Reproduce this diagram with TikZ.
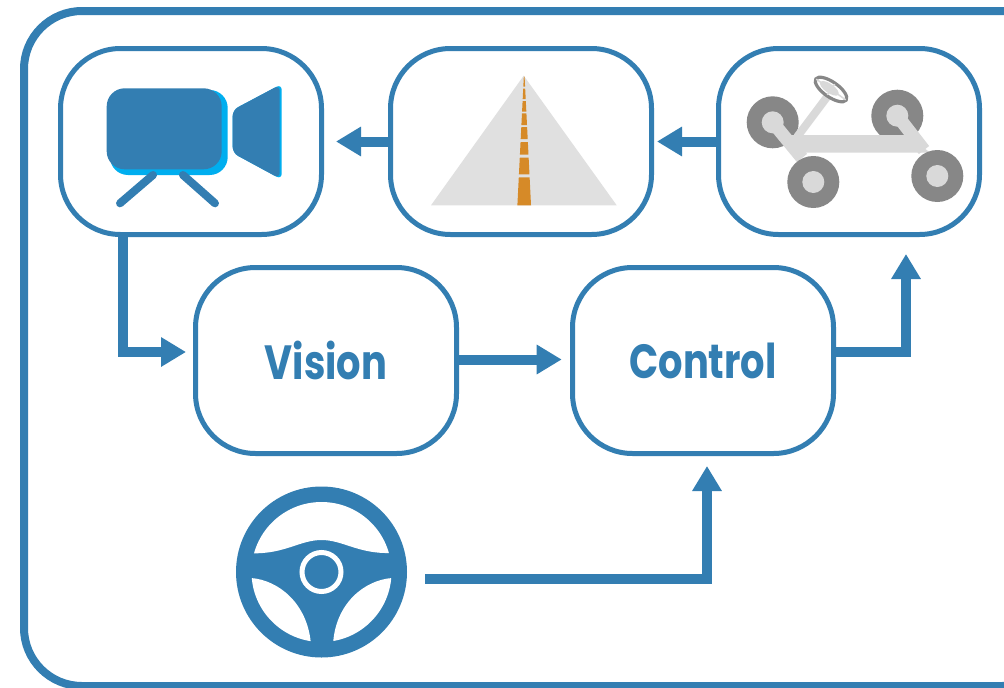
\documentclass[tikz,border=0pt]{standalone}
\usepackage{fontspec}
\setmainfont{Poppins}
\usetikzlibrary{arrows.meta,calc,shapes.geometric}
\definecolor{bl}{HTML}{337EB2}
\definecolor{cy}{HTML}{00AEEF}
\definecolor{rd}{HTML}{E0E0E0}
\definecolor{or}{HTML}{D68A28}
\definecolor{lg}{HTML}{D9D9D9}
\definecolor{dg}{HTML}{878787}
\tikzset{
  box/.style={draw=bl,line width=5pt,rounded corners=60pt,minimum width=261pt,minimum height=186pt,inner sep=0pt,fill=white,font=\bfseries\fontsize{48}{50}\selectfont,text=bl},
  conn/.style={draw=bl,line width=10pt,-{Triangle[length=25pt,width=28pt]}},
  wheelo/.style={fill=dg},
  wheeli/.style={fill=lg},
  bar/.style={draw=lg,line width=13pt}
}
\begin{document}
\begin{tikzpicture}[x=1pt,y=-1pt]
\useasboundingbox (0,0) rectangle (1004,688);
\begin{scope}
\clip (0,0) rectangle (1004,688);
\fill[white] (0,0) rectangle (1004,688);
\draw[bl,line width=8pt,rounded corners=58pt] (24,11) rectangle (1060,686);
\end{scope}
\node[box] (cam) at (191,141.5) {};
\node[box] (road) at (521,141.5) {};
\node[box] (car) at (849,141.5) {};
\node[box] (vision) at (326,360.5) {\raisebox{-2pt}{\scalebox{0.8}[1]{Vision}}};
\node[box] (control) at (703,360.5) {\raisebox{-2pt}{\scalebox{0.8}[1]{Control}}};
% camera
\fill[cy,rounded corners=18pt] (110,90) rectangle (227.7,175);
\fill[bl,rounded corners=18pt] (106.7,88.3) rectangle (221.7,169.3);
\draw[bl,line width=8pt,line cap=round] (120,203.3) -- (153,175);
\draw[bl,line width=8pt,line cap=round] (215,203.3) -- (183,175);
\fill[cy,rounded corners=6pt] (232.7,110) -- (281.7,84) -- (281.7,179.5) -- (232.7,153) -- cycle;
\fill[bl,rounded corners=6pt] (232.7,110) -- (279.7,85) -- (279.7,178.5) -- (232.7,153) -- cycle;
% road
\fill[rd] (523.7,75.7) -- (616.7,205.3) -- (431,205.3) -- cycle;
\foreach \a/\b in {352/436,293/343,246/284,201/237,160/195,123/155,86/117,50/80}{
  \pgfmathsetmacro{\ya}{60+\a/3}
  \pgfmathsetmacro{\yb}{60+\b/3}
  \pgfmathsetmacro{\ha}{(1+(\a-47)*0.05)/3}
  \pgfmathsetmacro{\hb}{(1+(\b-47)*0.05)/3}
  \fill[or] (524.2-\ha,\ya) -- (524.2+\ha,\ya) -- (524.2+\hb,\yb) -- (524.2-\hb,\yb) -- cycle;
}
% car
\fill[wheelo] (772.7,122.3) circle (26);
\fill[wheelo] (897.3,115.7) circle (26);
\draw[lg,line width=8pt] (797,137) -- (827,97);
\draw[dg,line width=3.2pt,fill=white,rotate around={-35:(831,89.5)}] (831,89.5) ellipse (18.5 and 7.5);
\draw[lg,line width=1.5pt,rotate around={-35:(831,89.5)}] (813,89.5) -- (849,89.5);
\draw[lg,line width=1.5pt,rotate around={-35:(831,89.5)}] (831,83) -- (831,96);
\fill[lg,rotate around={-35:(831,89.5)}] (829,89.5) ellipse (11 and 4.5);
\draw[bar] (772.7,122.3) -- (802,158);
\draw[bar] (897.3,115.7) -- (924,150);
\fill[lg] (791,135) -- (908,135) -- (930,152.7) -- (796,152.7) -- cycle;
\fill[wheeli] (772.7,122.3) circle (11);
\fill[wheeli] (897.3,115.7) circle (11);
\fill[wheelo] (813.3,182) circle (26);
\fill[wheeli] (813.3,182) circle (11);
\fill[wheelo] (937.3,176) circle (26);
\fill[wheeli] (937.3,176) circle (11);
% steering wheel
\fill[bl] (321.5,572) circle (85.5);
\begin{scope}
\clip (321.5,572) circle (70);
\fill[white] (235,553.3) -- (252,553.3) .. controls (285,554) and (300,540) .. (321.5,540) .. controls (343,540) and (358,554) .. (391,553) -- (410,553) -- (410,490) -- (235,490) -- cycle;
\fill[white] (235,578) -- (251,578) .. controls (278,580) and (308,603) .. (311,645) -- (311,660) -- (235,660) -- cycle;
\fill[white] (408,578) -- (392,578) .. controls (365,580) and (335,603) .. (333,645) -- (333,660) -- (408,660) -- cycle;
\end{scope}
\draw[white,line width=5pt] (321.5,572) circle (19.5);
\coordinate (wheelout) at (425,579);
% connectors
\draw[conn] (road.west |- 0,141.5) -- ([xshift=12pt]cam.east |- 0,141.5);
\draw[conn] (car.west |- 0,141.5) -- ([xshift=3pt]road.east |- 0,141.5);
\draw[conn] ([xshift=-67.7pt]cam.south) |- ([xshift=-7pt,yshift=8.5pt]vision.west);
\draw[conn] ([yshift=1pt]vision.east) -- ([xshift=-8.3pt,yshift=1pt]control.west);
\draw[conn] ([yshift=8.5pt]control.east) -| ([xshift=57pt,yshift=-17pt]car.south);
\draw[conn] (wheelout) -| ([xshift=4pt,yshift=-10pt]control.south);
\end{tikzpicture}
\end{document}
